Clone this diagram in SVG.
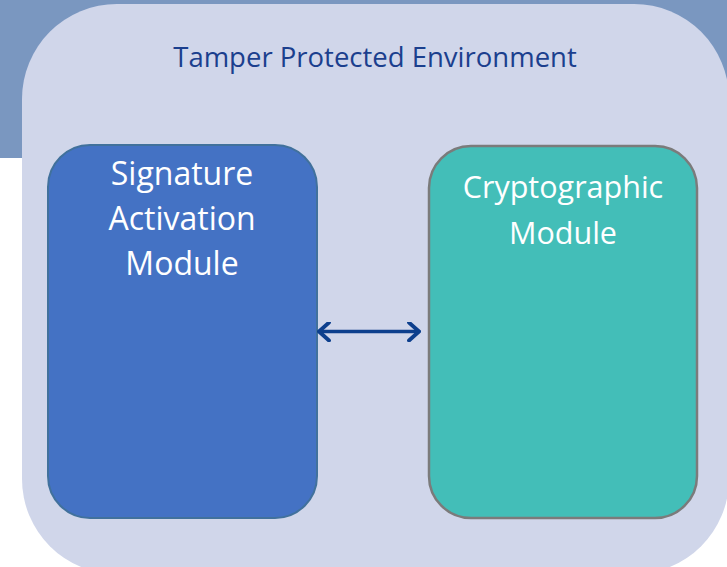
<svg xmlns="http://www.w3.org/2000/svg" width="727" height="567" viewBox="0 0 727 567">
<defs>
<style>
.lbl{font-family:"Open Sans","Noto Sans","Liberation Sans",sans-serif;text-anchor:middle}
.w{fill:#ffffff;font-size:32px}
.w2{fill:#ffffff;font-size:30.5px}
.t{fill:#1b3f8e;font-size:27.5px}
.conn{stroke:#0d3f8d;stroke-width:3.5;fill:none;stroke-linecap:round;stroke-linejoin:round}
</style>
<marker id="ah" viewBox="0 0 20 20" refX="18" refY="10" markerWidth="20" markerHeight="20" markerUnits="userSpaceOnUse" orient="auto-start-reverse">
<path d="M8,1 L18,10 L8,19" fill="none" stroke="#0d3f8d" stroke-width="3.8" stroke-linecap="round" stroke-linejoin="round"/>
</marker>
</defs>
<rect x="0" y="0" width="727" height="567" fill="#ffffff"/>
<rect x="0" y="0" width="727" height="158" fill="#7a97c0"/>
<g id="env">
<rect x="22" y="4" width="707" height="570" rx="95" ry="95" fill="#d0d6ea"/>
<text class="lbl t" x="375" y="67">Tamper Protected Environment</text>
</g>
<g id="sam">
<rect x="48" y="145" width="269" height="373" rx="42" ry="42" fill="#4472c4" stroke="#41719c" stroke-width="2"/>
<text class="lbl w" x="182" y="185">Signature</text>
<text class="lbl w" x="182" y="230">Activation</text>
<text class="lbl w" x="182" y="275">Module</text>
</g>
<g id="cm">
<rect x="429" y="146" width="268" height="372" rx="42" ry="42" fill="#43beb8" stroke="#7b7b7b" stroke-width="2.5"/>
<text class="lbl w2" x="563" y="198">Cryptographic</text>
<text class="lbl w2" x="563" y="244">Module</text>
</g>
<g id="connectors">
<line class="conn" x1="319" y1="331.5" x2="419" y2="331.5" marker-start="url(#ah)" marker-end="url(#ah)"/>
</g>
</svg>
